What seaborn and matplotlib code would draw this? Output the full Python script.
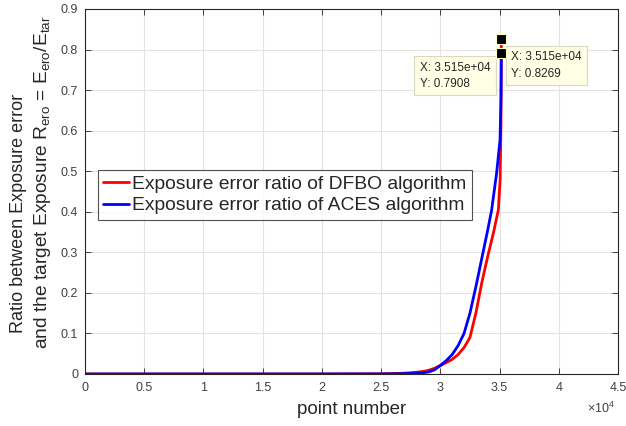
import numpy as np
import pandas as pd
import matplotlib
matplotlib.use("Agg")
import matplotlib.pyplot as plt
import seaborn as sns

# ---- data ----
dfbo_x = [0, 5000, 10000, 15000, 20000, 25000, 26500, 27500, 28500, 29000, 29500, 30000,
          30500, 31000, 31500, 32000, 32500, 33000, 33500, 34000, 34500, 34900, 35050, 35120, 35150]
dfbo_y = [0, 0, 0, 0, 0, 0.0005, 0.0015, 0.003, 0.006, 0.009, 0.014, 0.021,
          0.028, 0.036, 0.048, 0.065, 0.090, 0.150, 0.225, 0.290, 0.350, 0.405, 0.48, 0.62, 0.8269]
aces_x = [0, 5000, 10000, 15000, 20000, 25000, 26500, 27500, 28500, 29000, 29500, 30000,
          30500, 31000, 31500, 32000, 32500, 33000, 33500, 34000, 34330, 34750, 35040, 35120, 35150]
aces_y = [0, 0, 0, 0, 0, 0.0002, 0.0006, 0.0015, 0.003, 0.005, 0.010, 0.021,
          0.033, 0.048, 0.070, 0.100, 0.150, 0.215, 0.285, 0.355, 0.404, 0.495, 0.577, 0.68, 0.7908]
series_names = ["Exposure error ratio of DFBO algorithm", "Exposure error ratio of ACES algorithm"]
series_colors = ["#ff0000", "#0000ff"]
x_ticks = [0, 5000, 10000, 15000, 20000, 25000, 30000, 35000, 40000, 45000]
x_tick_labels = ["0", "0.5", "1", "1.5", "2", "2.5", "3", "3.5", "4", "4.5"]
y_ticks = [0, 0.1, 0.2, 0.3, 0.4, 0.5, 0.6, 0.7, 0.8, 0.9]
y_tick_labels = ["0", "0.1", "0.2", "0.3", "0.4", "0.5", "0.6", "0.7", "0.8", "0.9"]
tip_x = [35150, 35150]
tip_y = [0.8269, 0.7908]
tip_texts = ["X: 3.515e+04\nY: 0.8269", "X: 3.515e+04\nY: 0.7908"]
ylabel_lines = ["Ratio between Exposure error",
                "and the target Exposure R$_{\\rm ero}$ = E$_{\\rm ero}$/E$_{\\rm tar}$"]

df = pd.concat([
    pd.DataFrame({"x": dfbo_x, "y": dfbo_y, "s": series_names[0]}),
    pd.DataFrame({"x": aces_x, "y": aces_y, "s": series_names[1]}),
])

sns.set_style("white")
plt.rcParams["font.family"] = ["Liberation Sans", "DejaVu Sans"]
plt.rcParams["mathtext.fontset"] = "custom"
plt.rcParams["mathtext.rm"] = "Liberation Sans"
plt.rcParams["mathtext.it"] = "Liberation Sans"
plt.rcParams["mathtext.bf"] = "Liberation Sans:bold"

fig = plt.figure(figsize=(6.26, 4.26), dpi=100)
ax = fig.add_axes([85/626, 1-374/426, 533/626, 365/426])

sns.lineplot(data=df, x="x", y="y", hue="s", palette=dict(zip(series_names, series_colors)),
             linewidth=2.0, ax=ax, sort=False, estimator=None)

ax.set_xlim(0, 45000)
ax.set_ylim(0, 0.9)
ax.set_xticks(x_ticks)
ax.set_xticklabels(x_tick_labels)
ax.set_yticks(y_ticks)
ax.set_yticklabels(y_tick_labels)
ax.grid(True, color="#e3e3e3", linewidth=0.8)
ax.set_axisbelow(True)
for sp in ax.spines.values():
    sp.set_color("#262626")
    sp.set_linewidth(0.8)
    sp.set_visible(True)
ax.tick_params(axis="both", direction="in", length=4, width=0.6, colors="#262626",
               labelsize=9, labelcolor="#404040", pad=5, top=True, right=True,
               bottom=True, left=True)
ax.tick_params(axis="x", pad=6)

ax.set_xlabel("point number", fontsize=13.5, color="#262626", labelpad=5)
ax.set_ylabel("")
fig.text(19/626, 1-213/426, ylabel_lines[0], rotation=90, fontsize=13, color="#262626",
         ha="center", va="center")
fig.text(43/626, 1-182/426, ylabel_lines[1], rotation=90, fontsize=13.8, color="#262626",
         ha="center", va="center")
fig.text(615/626, 1-408/426, "$\\times$10$^4$", fontsize=9, color="#404040", ha="right", va="center")

# data tips
ax.plot(tip_x, tip_y, linestyle="none", marker="s", markersize=7.5,
        markerfacecolor="black", markeredgecolor="#ffffcc", markeredgewidth=0.8, zorder=5)
bbox = dict(boxstyle="square,pad=0.45", facecolor="#ffffe6", edgecolor="#d9d9c0", linewidth=0.8)
ax.annotate(tip_texts[0], xy=(tip_x[0], tip_y[0]), xytext=(7, -9), textcoords="offset points",
            fontsize=8.5, color="#262626", ha="left", va="top", bbox=bbox, linespacing=1.5,
            multialignment="left")
ax.annotate(tip_texts[1], xy=(tip_x[1], tip_y[1]), xytext=(-8, -6), textcoords="offset points",
            fontsize=8.5, color="#262626", ha="right", va="top", bbox=bbox, linespacing=1.5,
            multialignment="left")

leg = ax.legend(loc="upper left", bbox_to_anchor=(13/533, 1-161/365), fontsize=13.9,
                frameon=True, fancybox=False, edgecolor="#262626", handlelength=1.3,
                handletextpad=0.2, borderpad=0.28, labelspacing=0.2, borderaxespad=0)
leg.get_frame().set_linewidth(0.8)
for t in leg.get_texts():
    t.set_color("#262626")

fig.savefig("out.png", dpi=100)
